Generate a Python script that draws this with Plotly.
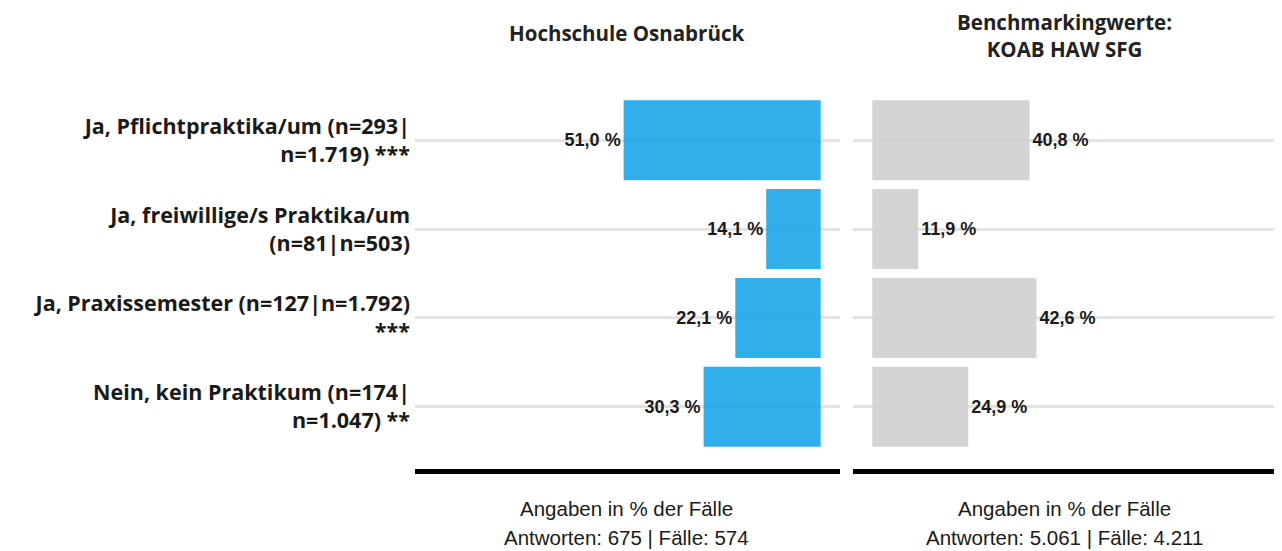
import plotly.graph_objects as go

categories = [
    "Ja, Pflichtpraktika/um (n=293|<br>n=1.719) ***",
    "Ja, freiwillige/s Praktika/um<br>(n=81|n=503)",
    "Ja, Praxissemester (n=127|n=1.792)<br>***",
    "Nein, kein Praktikum (n=174|<br>n=1.047) **",
]
hs_values = [51.0, 14.1, 22.1, 30.3]
bench_values = [40.8, 11.9, 42.6, 24.9]
panel_titles = ["Hochschule Osnabrück", "Benchmarkingwerte:<br>KOAB HAW SFG"]
footer_line1 = ["Angaben in % der Fälle", "Angaben in % der Fälle"]
footer_line2 = ["Antworten: 675 | Fälle: 574", "Antworten: 5.061 | Fälle: 4.211"]

# page has an 8px body margin, so the figure is 8px smaller and all pixel positions shift by 8
OFF = 8
W, H = 1282 - OFF, 551 - OFF
TOP, BOT = 78 - OFF, 469 - OFF
dom1 = [(415 - OFF) / W, (840 - OFF) / W]
dom2 = [(853 - OFF) / W, (1277 - OFF) / W]


def py(p):
    return (BOT - (p - OFF)) / (BOT - TOP)


label_font = dict(family="Open Sans, sans-serif", size=21.5, color="#1a1a1a", weight="bold")
val_font = dict(family="Liberation Sans, Arial, sans-serif", size=18, color="#1a1a1a", weight="bold")
foot_font = dict(family="Liberation Sans, Arial, sans-serif", size=20.5, color="#1a1a1a")
title_font = dict(family="Open Sans, sans-serif", size=20.5, color="#222222", weight="bold")

fig = go.Figure()
fig.add_trace(go.Bar(
    y=categories, x=hs_values, orientation="h",
    marker=dict(color="#20A8E8", opacity=0.92, line=dict(width=0)),
    width=0.9, texttemplate="%{x:.1f} %", textposition="outside",
    textfont=val_font, cliponaxis=False, xaxis="x", yaxis="y",
    hoverinfo="skip", showlegend=False,
))
fig.add_trace(go.Bar(
    y=categories, x=bench_values, orientation="h",
    marker=dict(color="#D0D0D0", opacity=0.92, line=dict(width=0)),
    width=0.9, texttemplate="%{x:.1f} %", textposition="outside",
    textfont=val_font, cliponaxis=False, xaxis="x2", yaxis="y2",
    hoverinfo="skip", showlegend=False,
))

xcommon = dict(showgrid=False, zeroline=False, showticklabels=False, ticks="",
               showline=True, linecolor="black", linewidth=5, fixedrange=True)
ycommon = dict(type="category", categoryorder="array", categoryarray=categories,
               range=[3.7, -0.7], showgrid=True, gridcolor="#E3E3E3", gridwidth=3,
               zeroline=False, ticks="", showline=False, automargin=False)

fig.update_layout(
    width=W, height=H,
    margin=dict(l=0, r=0, t=TOP, b=H - BOT),
    plot_bgcolor="white", paper_bgcolor="white",
    separators=",.",
    bargap=0.1,
    xaxis=dict(domain=dom1, range=[105, -5], anchor="y", **xcommon),
    xaxis2=dict(domain=dom2, range=[-5, 105], anchor="y2", **xcommon),
    yaxis=dict(anchor="x", tickfont=label_font, ticklabelstandoff=4, **ycommon),
    yaxis2=dict(anchor="x2", showticklabels=False, matches="y", **ycommon),
)

centers = [(626 - OFF) / W, (1064 - OFF) / W]
title_y = [33, 35]
for i in range(2):
    fig.add_annotation(x=centers[i], y=py(title_y[i]), xref="paper", yref="paper",
                       xanchor="center", yanchor="middle", text=panel_titles[i], borderpad=0,
                       showarrow=False, font=title_font)
    fig.add_annotation(x=centers[i], y=py(508), xref="paper", yref="paper",
                       xanchor="center", yanchor="middle", text=footer_line1[i],
                       showarrow=False, font=foot_font)
    fig.add_annotation(x=centers[i], y=py(537), xref="paper", yref="paper",
                       xanchor="center", yanchor="middle", text=footer_line2[i],
                       showarrow=False, font=foot_font)

fig.write_html("out.html")
